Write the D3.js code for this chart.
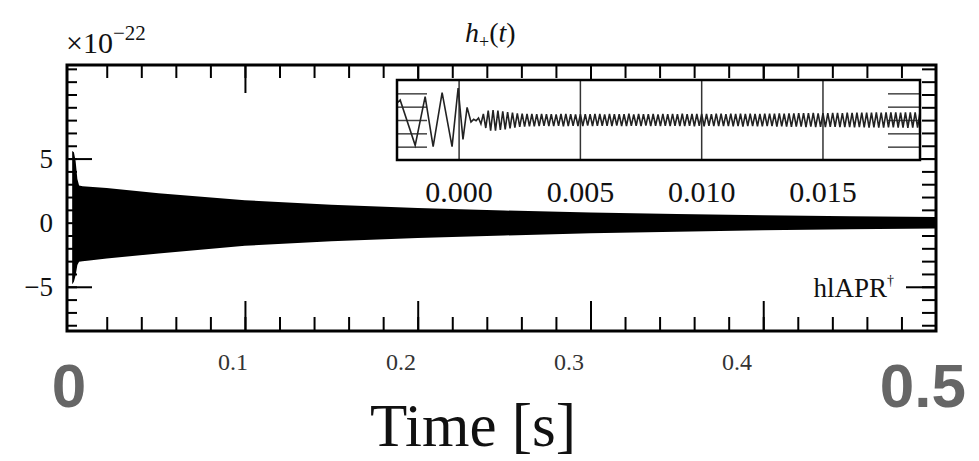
<!DOCTYPE html>
<html>
<head>
<meta charset="utf-8">
<script src="https://cdn.jsdelivr.net/npm/d3@7"></script>
<style>
  body { margin: 0; background: #fff; }
  svg text { font-family: "Liberation Serif", "DejaVu Serif", serif; fill: #111; }
</style>
</head>
<body>
<div id="chartDiv"></div>
<script>
// envelope of the long h+ signal (units of 1e-22)
var envTime  = [0, 0.001, 0.002, 0.003, 0.004, 0.006, 0.01, 0.02, 0.05, 0.1, 0.15, 0.2, 0.25, 0.3, 0.35, 0.4, 0.45, 0.5];
var envUpper = [5.6, 5.5, 4.8, 3.4, 2.9, 2.85, 2.8, 2.7, 2.3, 1.75, 1.4, 1.15, 0.95, 0.8, 0.68, 0.58, 0.5, 0.45];
var envLower = [-4.8, -4.6, -4.1, -3.3, -3.05, -3.0, -2.95, -2.8, -2.4, -1.8, -1.45, -1.2, -1.0, -0.82, -0.7, -0.6, -0.52, -0.46];

// inset: merger part (time [s], strain in arbitrary units)
var mergerTime = [-0.0026, -0.00243, -0.00181, -0.0014, -0.00107, -0.0007, -0.00029, -0.00004, 0.00016, 0.00033, 0.00049, 0.0006, 0.0007];
var mergerVal  = [1.2, 1.5, -1.9, 1.75, -2.0, 2.05, -2.0, 2.4, -1.45, 0.95, -0.15, 0.05, -0.05];

// inset: post-merger oscillation, successive extrema
var ringStart = 0.0008;
var ringStep = 0.0001;
var ringVal = [
  0.15,-0.3,0.45,-0.6,0.7,-0.8,0.75,-0.8,0.7,-0.75,
  0.65,-0.7,0.6,-0.62,0.55,-0.58,0.5,-0.52,0.48,-0.5,
  0.46,-0.48,0.45,-0.47,0.44,-0.46,0.45,-0.44,0.43,-0.45,
  0.44,-0.46,0.42,-0.44,0.45,-0.47,0.46,-0.45,0.43,-0.44,
  0.42,-0.45,0.44,-0.46,0.43,-0.42,0.44,-0.45,0.46,-0.44,
  0.45,-0.43,0.42,-0.44,0.46,-0.45,0.43,-0.42,0.44,-0.46,
  0.43,-0.45,0.47,-0.44,0.42,-0.43,0.45,-0.46,0.44,-0.42,
  0.44,-0.46,0.45,-0.43,0.42,-0.45,0.46,-0.44,0.43,-0.45,
  0.46,-0.44,0.43,-0.45,0.47,-0.46,0.44,-0.43,0.45,-0.47,
  0.45,-0.44,0.46,-0.47,0.45,-0.43,0.44,-0.46,0.48,-0.46,
  0.47,-0.45,0.44,-0.46,0.48,-0.47,0.45,-0.46,0.47,-0.49,
  0.46,-0.45,0.47,-0.46,0.45,-0.47,0.46,-0.48,0.47,-0.46,
  0.48,-0.46,0.47,-0.49,0.5,-0.48,0.47,-0.49,0.5,-0.51,
  0.49,-0.5,0.52,-0.5,0.51,-0.53,0.52,-0.5,0.53,-0.54,
  0.5,-0.52,0.51,-0.53,0.52,-0.51,0.53,-0.52,0.54,-0.53,
  0.52,-0.54,0.55,-0.53,0.54,-0.56,0.55,-0.54,0.56,-0.55,
  0.55,-0.57,0.56,-0.55,0.57,-0.58,0.56,-0.57,0.58,-0.56,
  0.57,-0.56,0.58,-0.57,0.56,-0.58,0.57,-0.59,0.58,-0.57,
  0.58,-0.57,0.59,-0.58,0.57,-0.59,0.58,-0.57,0.59,-0.58
];

var xTickLabels = ["0.1", "0.2", "0.3", "0.4"];
var yTickLabels = ["5", "0", "\u22125"];
var insetTickLabels = ["0.000", "0.005", "0.010", "0.015"];

var width = 979, height = 461;
var frame = { left: 67, right: 936, top: 65, bottom: 331 };
var inset = { left: 397, right: 920, top: 80, bottom: 160 };

var svg = d3.select("#chartDiv").append("svg")
  .attr("width", width).attr("height", height);

var x = d3.scaleLinear().domain([-0.003, 0.5]).range([frame.left, frame.right]);
var y = d3.scaleLinear().domain([-8.45, 12.3]).range([frame.bottom, frame.top]);
// tick labels of the figure sit on a slightly narrower spacing than the ticks
var xLab = d3.scaleLinear().domain([0, 0.5]).range([65, 905]);

// filled envelope
var area = d3.area()
  .x(function(d, i) { return x(envTime[i]); })
  .y0(function(d, i) { return y(envLower[i]); })
  .y1(function(d, i) { return y(envUpper[i]); });

svg.append("path")
  .datum(envTime)
  .attr("d", area)
  .attr("fill", "#000");

// ticks, all pointing inward
var minorX = d3.range(0.02, 0.5, 0.02);
var majorX = xTickLabels.map(Number);
var minorY = d3.range(-8, 13, 1);
var majorY = [-5, 5];

function tickAxis(axis, vals, size) {
  return axis.tickValues(vals).tickSizeInner(size).tickSizeOuter(0).tickFormat("");
}

var axes = svg.append("g").attr("class", "axes");

axes.append("g").attr("transform", "translate(0," + frame.bottom + ")")
  .call(tickAxis(d3.axisBottom(x), minorX, -14));
axes.append("g").attr("transform", "translate(0," + frame.bottom + ")")
  .call(tickAxis(d3.axisBottom(x), majorX, -30));
axes.append("g").attr("transform", "translate(0," + frame.top + ")")
  .call(tickAxis(d3.axisTop(x), minorX, -13));
axes.append("g").attr("transform", "translate(0," + frame.top + ")")
  .call(tickAxis(d3.axisTop(x), majorX, -28));
axes.append("g").attr("transform", "translate(" + frame.left + ",0)")
  .call(tickAxis(d3.axisLeft(y), minorY, -10));
axes.append("g").attr("transform", "translate(" + frame.left + ",0)")
  .call(tickAxis(d3.axisLeft(y), majorY, -25));
axes.append("g").attr("transform", "translate(" + frame.right + ",0)")
  .call(tickAxis(d3.axisRight(y), minorY, -14));
axes.append("g").attr("transform", "translate(" + frame.right + ",0)")
  .call(tickAxis(d3.axisRight(y), majorY, -30));

axes.selectAll(".domain").remove();
axes.selectAll(".tick line").attr("stroke", "#000").attr("stroke-width", 2);

svg.append("rect")
  .attr("x", frame.left).attr("y", frame.top)
  .attr("width", frame.right - frame.left).attr("height", frame.bottom - frame.top)
  .attr("fill", "none").attr("stroke", "#000").attr("stroke-width", 3);

// bottom tick labels
svg.selectAll(".xlab")
  .data(xTickLabels)
  .enter().append("text")
    .attr("class", "xlab")
    .attr("x", function(d) { return xLab(+d); })
    .attr("y", 370)
    .attr("text-anchor", "middle")
    .style("font-size", "24px")
    .style("fill", "#333")
    .text(function(d) { return d; });

// left tick labels
svg.selectAll(".ylab")
  .data(yTickLabels)
  .enter().append("text")
    .attr("class", "ylab")
    .attr("x", 53)
    .attr("y", function(d) { return y(+d.replace("\u2212", "-")) + 9; })
    .attr("text-anchor", "end")
    .style("font-size", "27px")
    .text(function(d) { return d; });

// exponent label
var expo = svg.append("text").attr("x", 66).attr("y", 53).style("font-size", "30px");
expo.append("tspan").text("\u00d710");
expo.append("tspan").attr("dy", -13).style("font-size", "21px").text("\u221222");

// title h+(t)
var title = svg.append("text").attr("x", 465).attr("y", 42).style("font-size", "28px");
title.append("tspan").style("font-style", "italic").text("h");
title.append("tspan").attr("dy", 6).style("font-size", "18px").text("+");
title.append("tspan").attr("dy", -6).text("(");
title.append("tspan").style("font-style", "italic").text("t");
title.append("tspan").text(")");

// legend text
var leg = svg.append("text").attr("x", 894).attr("y", 297).attr("text-anchor", "end").style("font-size", "27px");
leg.append("tspan").text("hlAPR");
leg.append("tspan").attr("dy", -12).style("font-size", "14px").text("\u2020");

// ---------- inset ----------
var ix = d3.scaleLinear().domain([-0.00256, 0.019]).range([inset.left, inset.right]);
var iy = d3.scaleLinear().domain([-3.0, 3.0]).range([inset.bottom, inset.top]);

svg.append("rect")
  .attr("x", inset.left).attr("y", inset.top)
  .attr("width", inset.right - inset.left).attr("height", inset.bottom - inset.top)
  .attr("fill", "#fff");

svg.append("clipPath").attr("id", "insetClip")
  .append("rect")
  .attr("x", inset.left).attr("y", inset.top)
  .attr("width", inset.right - inset.left).attr("height", inset.bottom - inset.top);

var ig = svg.append("g").attr("clip-path", "url(#insetClip)");

var insetMajor = insetTickLabels.map(Number);
ig.selectAll(".igrid")
  .data(insetMajor)
  .enter().append("line")
    .attr("class", "igrid")
    .attr("x1", function(d) { return ix(d); })
    .attr("x2", function(d) { return ix(d); })
    .attr("y1", inset.top).attr("y2", inset.bottom)
    .attr("stroke", "#333").attr("stroke-width", 1.5);

var insetYTicks = [-2, -1, 0, 1, 2];
var iaxes = ig.append("g");
iaxes.append("g").attr("transform", "translate(" + inset.left + ",0)")
  .call(tickAxis(d3.axisLeft(iy), insetYTicks, -30));
iaxes.append("g").attr("transform", "translate(" + inset.right + ",0)")
  .call(tickAxis(d3.axisRight(iy), insetYTicks, -32));
iaxes.selectAll(".domain").remove();
iaxes.selectAll(".tick line").attr("stroke", "#444").attr("stroke-width", 1.5);

var wave = mergerTime.map(function(t, i) { return [t, mergerVal[i]]; })
  .concat(ringVal.map(function(v, i) { return [ringStart + i * ringStep, v]; }));

ig.append("path")
  .datum(wave)
  .attr("d", d3.line()
    .x(function(d) { return ix(d[0]); })
    .y(function(d) { return iy(d[1]); }))
  .attr("fill", "none")
  .attr("stroke", "#222")
  .attr("stroke-width", 1.6);

svg.append("rect")
  .attr("x", inset.left).attr("y", inset.top)
  .attr("width", inset.right - inset.left).attr("height", inset.bottom - inset.top)
  .attr("fill", "none").attr("stroke", "#000").attr("stroke-width", 2.5);

svg.selectAll(".ilab")
  .data(insetTickLabels)
  .enter().append("text")
    .attr("class", "ilab")
    .attr("x", function(d) { return ix(+d); })
    .attr("y", 202)
    .attr("text-anchor", "middle")
    .style("font-size", "30px")
    .text(function(d) { return d; });

// big gray end labels and axis title
svg.append("text").attr("x", 69).attr("y", 407).attr("text-anchor", "middle")
  .style("font-family", "'Liberation Sans', Arial, sans-serif").style("font-weight", "bold")
  .style("font-size", "62px").style("fill", "#666").text("0");
svg.append("text").attr("x", 966).attr("y", 407).attr("text-anchor", "end")
  .style("font-family", "'Liberation Sans', Arial, sans-serif").style("font-weight", "bold")
  .style("font-size", "62px").style("fill", "#666").text("0.5");

svg.append("text").attr("x", 473).attr("y", 446).attr("text-anchor", "middle")
  .style("font-size", "61px").text("Time [s]");
</script>
</body>
</html>
